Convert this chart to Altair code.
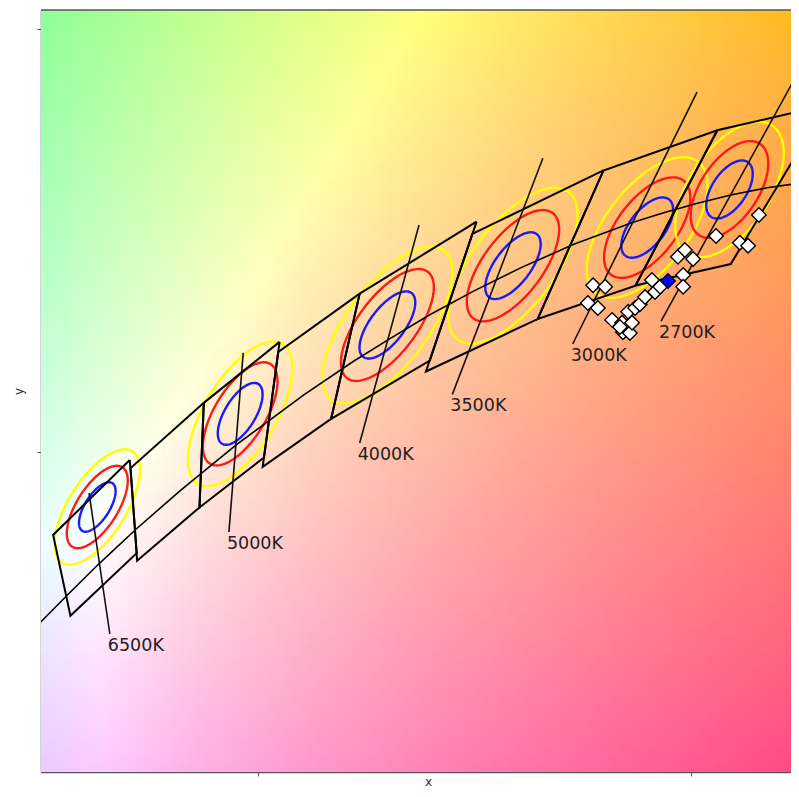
import altair as alt
import numpy as np
import pandas as pd

# ---------------- axis frame ----------------
X_DOMAIN = [0.30, 0.47321]
Y_DOMAIN = [0.2744, 0.4544]
X_TICKS = [0.35, 0.45]
Y_TICKS = [0.35, 0.45]
BG_STEP = 0.002

# ---------------- ANSI C78.377 quadrangles (corners) ----------------
QUAD_CCT = ["6500K", "5700K", "5000K", "4500K", "4000K", "3500K", "3000K", "2700K"]
QUAD_X = [
    [0.3205, 0.3028, 0.3068, 0.3221],
    [0.3376, 0.3207, 0.3222, 0.3366],
    [0.3551, 0.3376, 0.3366, 0.3515],
    [0.3736, 0.3548, 0.3512, 0.3670],
    [0.4006, 0.3736, 0.3670, 0.3898],
    [0.4299, 0.3996, 0.3889, 0.4147],
    [0.4562, 0.4299, 0.4147, 0.4373],
    [0.4813, 0.4562, 0.4373, 0.4593],
]
QUAD_Y = [
    [0.3481, 0.3304, 0.3113, 0.3261],
    [0.3616, 0.3462, 0.3243, 0.3369],
    [0.3760, 0.3616, 0.3369, 0.3487],
    [0.3874, 0.3736, 0.3465, 0.3578],
    [0.4044, 0.3874, 0.3578, 0.3716],
    [0.4165, 0.4015, 0.3690, 0.3814],
    [0.4260, 0.4165, 0.3814, 0.3893],
    [0.4319, 0.4260, 0.3893, 0.3944],
]

# ---------------- Planckian locus ----------------
PLANCK_T = [2400, 2500, 2600, 2700, 2800, 2900, 3000, 3200, 3400, 3600, 3800,
            4000, 4200, 4500, 5000, 5500, 6000, 6500, 7000, 7500, 8000]
PLANCK_X = [0.4857, 0.4765, 0.4677, 0.4593, 0.4514, 0.4438, 0.4366, 0.4232, 0.4110,
            0.3999, 0.3898, 0.3805, 0.3720, 0.3607, 0.3450, 0.3323, 0.3220, 0.3135,
            0.3064, 0.3004, 0.2952]
PLANCK_Y = [0.4147, 0.4137, 0.4124, 0.4107, 0.4087, 0.4065, 0.4042, 0.3991, 0.3936,
            0.3880, 0.3824, 0.3767, 0.3713, 0.3635, 0.3516, 0.3410, 0.3318, 0.3237,
            0.3165, 0.3103, 0.3048]

# ---------------- MacAdam ellipses (centre + metric) ----------------
ELL_CCT = ["6500K", "5000K", "4000K", "3500K", "3000K", "2700K"]
ELL_X = [0.313, 0.346, 0.380, 0.409, 0.440, 0.459]
ELL_Y = [0.337, 0.359, 0.380, 0.394, 0.403, 0.412]
G11 = [86e4, 56e4, 39.5e4, 38e4, 39e4, 44e4]
G12 = [-40e4, -25e4, -21.5e4, -20e4, -19.5e4, -18.6e4]
G22 = [45e4, 28e4, 26e4, 25e4, 27.5e4, 27e4]
STEPS = [3, 5, 7]
STEP_COLORS = ["#1a1aff", "#ff1a1a", "#ffff00"]

# ---------------- isotemperature lines + labels ----------------
ISO_LABEL = ["6500K", "5000K", "4000K", "3500K", "3000K", "2700K"]
ISO_X0 = [0.3111, 0.3467, 0.3873, 0.4159, 0.4515, 0.4771]
ISO_Y0 = [0.3403, 0.3734, 0.4036, 0.4194, 0.4350, 0.4438]
ISO_X1 = [0.3159, 0.3434, 0.3736, 0.3950, 0.4228, 0.4432]
ISO_Y1 = [0.3070, 0.3311, 0.3521, 0.3636, 0.3755, 0.3809]

# ---------------- measured points ----------------
PT_X = [0.4275, 0.4303, 0.4263, 0.4286, 0.4319, 0.4342, 0.4344, 0.4360, 0.4337,
        0.4356, 0.4365, 0.4372, 0.4383, 0.4395, 0.4418, 0.4411, 0.4430, 0.4483,
        0.4483, 0.4471, 0.4487, 0.4506, 0.4559, 0.4614, 0.4633, 0.4658]
PT_Y = [0.3894, 0.3890, 0.3852, 0.3840, 0.3812, 0.3805, 0.3783, 0.3781, 0.3795,
        0.3831, 0.3805, 0.3840, 0.3849, 0.3866, 0.3878, 0.3906, 0.3890, 0.3918,
        0.3890, 0.3961, 0.3977, 0.3956, 0.4010, 0.3994, 0.3987, 0.4060]
REF_X = [0.4448]
REF_Y = [0.3904]

# ================= build tables =================
# background chromaticity colours
xs = np.arange(X_DOMAIN[0] - BG_STEP, X_DOMAIN[1] + BG_STEP, BG_STEP)
ys = np.arange(Y_DOMAIN[0] - BG_STEP, Y_DOMAIN[1] + BG_STEP, BG_STEP)
gx, gy = np.meshgrid(xs, ys)
cx = gx + BG_STEP / 2
cy = gy + BG_STEP / 2
XX = cx / cy
ZZ = (1 - cx - cy) / cy
M = np.array([[3.2406, -1.5372, -0.4986],
              [-0.9689, 1.8758, 0.0415],
              [0.0557, -0.2040, 1.0570]])
lin = np.stack([XX, np.ones_like(XX), ZZ], axis=-1) @ M.T
lin = np.clip(lin, 0, None)
lin = lin / lin.max(axis=-1, keepdims=True)
srgb = np.where(lin <= 0.0031308, 12.92 * lin, 1.055 * np.power(lin, 1 / 2.4) - 0.055)
srgb = np.clip(np.round(srgb * 255), 0, 255).astype(int)
hexes = ["#%02x%02x%02x" % tuple(c) for c in srgb.reshape(-1, 3)]
bg = pd.DataFrame({
    "x": gx.ravel(), "x2": gx.ravel() + BG_STEP * 1.15,
    "y": gy.ravel(), "y2": gy.ravel() + BG_STEP * 1.15,
    "c": hexes,
})

quad_rows = []
for i, name in enumerate(QUAD_CCT):
    for o, k in enumerate([0, 1, 2, 3, 0]):
        quad_rows.append({"id": name, "o": o, "x": QUAD_X[i][k], "y": QUAD_Y[i][k]})
quad_df = pd.DataFrame(quad_rows)

planck_df = pd.DataFrame({"T": PLANCK_T, "x": PLANCK_X, "y": PLANCK_Y})

ell_rows = []
t = np.linspace(0, 2 * np.pi, 121)
for i, name in enumerate(ELL_CCT):
    G = np.array([[G11[i], G12[i]], [G12[i], G22[i]]])
    w, V = np.linalg.eigh(G)
    for s, col in zip(STEPS, STEP_COLORS):
        pts = V @ (np.vstack([np.cos(t), np.sin(t)]) * (s / np.sqrt(w))[:, None])
        for o in range(len(t)):
            ell_rows.append({"id": f"{name}-{s}", "o": o, "c": col,
                             "x": ELL_X[i] + pts[0, o], "y": ELL_Y[i] + pts[1, o]})
ell_df = pd.DataFrame(ell_rows)

iso_rows = []
for i, name in enumerate(ISO_LABEL):
    iso_rows.append({"id": name, "o": 0, "x": ISO_X0[i], "y": ISO_Y0[i]})
    iso_rows.append({"id": name, "o": 1, "x": ISO_X1[i], "y": ISO_Y1[i]})
iso_df = pd.DataFrame(iso_rows)
lab_df = pd.DataFrame({"label": ISO_LABEL, "x": ISO_X1, "y": ISO_Y1})

pt_df = pd.DataFrame({"x": PT_X, "y": PT_Y})
ref_df = pd.DataFrame({"x": REF_X, "y": REF_Y})
frame_df = pd.DataFrame({"x": [X_DOMAIN[0]], "x2": [X_DOMAIN[1]], "y": [Y_DOMAIN[1]]})

# ================= chart =================
x_scale = alt.Scale(domain=X_DOMAIN, nice=False, zero=False)
y_scale = alt.Scale(domain=Y_DOMAIN, nice=False, zero=False)
x_axis = alt.Axis(values=X_TICKS, labels=False, grid=False, tickSize=4, title="x",
                  titlePadding=0, titleX=387, titleFontSize=12)
y_axis = alt.Axis(values=Y_TICKS, labels=False, grid=False, tickSize=4, title="y",
                  titlePadding=11, titleFontSize=12)


def XE(f="x"):
    return alt.X(f, type="quantitative", scale=x_scale, axis=x_axis)


def YE(f="y"):
    return alt.Y(f, type="quantitative", scale=y_scale, axis=y_axis)


background = alt.Chart(bg).mark_rect(clip=True, strokeWidth=0).encode(
    x=XE("x"), x2="x2", y=YE("y"), y2="y2", color=alt.Color("c:N", scale=None)
)

ellipses = alt.Chart(ell_df).mark_line(clip=True, strokeWidth=2.4).encode(
    x=XE(), y=YE(), detail="id:N", order="o:Q", color=alt.Color("c:N", scale=None)
)

quads = alt.Chart(quad_df).mark_line(clip=True, color="black", strokeWidth=2).encode(
    x=XE(), y=YE(), detail="id:N", order="o:Q"
)

planck = alt.Chart(planck_df).mark_line(clip=True, color="black", strokeWidth=1.6).encode(
    x=XE(), y=YE(), order="T:Q"
)

iso = alt.Chart(iso_df).mark_line(clip=True, color="#111", strokeWidth=1.6).encode(
    x=XE(), y=YE(), detail="id:N", order="o:Q"
)

labels = alt.Chart(lab_df).mark_text(
    align="left", baseline="top", font="DejaVu Sans", fontSize=17.5, color="#222",
    dx=-2, dy=3
).encode(x=XE(), y=YE(), text="label:N")

points = alt.Chart(pt_df).mark_point(
    shape="diamond", filled=True, fill="white", stroke="black", strokeWidth=1.4,
    size=210, opacity=1, clip=True
).encode(x=XE(), y=YE())

ref = alt.Chart(ref_df).mark_point(
    shape="diamond", filled=True, fill="#0000ff", stroke="black", strokeWidth=1.4,
    size=210, opacity=1, clip=True
).encode(x=XE(), y=YE())

frame = alt.Chart(frame_df).mark_rule(color="#555", strokeWidth=1.5).encode(
    x=XE("x"), x2="x2", y=YE("y")
)

chart = alt.layer(
    background, ellipses, quads, planck, iso, labels, points, ref, frame
).properties(
    width=750, height=762,
    autosize=alt.AutoSizeParams(type="none"),
    padding={"left": 33, "top": 2, "right": 0, "bottom": 17},
).configure_view(stroke=None).configure_axis(
    domainColor="#555", domainWidth=1.5, tickColor="#555", tickWidth=1,
    titleFont="DejaVu Sans", titleFontWeight="normal", titleColor="#333"
)

chart.save("out.html", embed_options={"renderer": "svg", "actions": False})
